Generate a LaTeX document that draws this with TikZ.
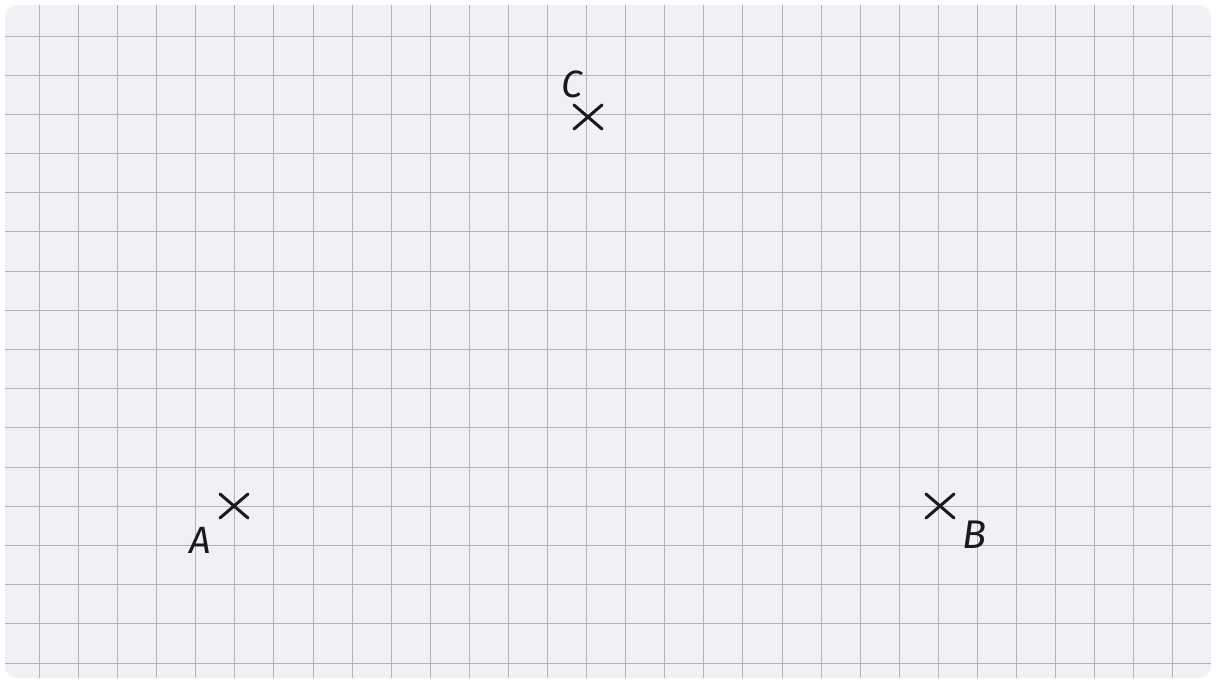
\documentclass[tikz,border=0pt]{standalone}
\usepackage{fontspec}
\setmainfont{Fira Sans}
\usetikzlibrary{shapes.misc}
\definecolor{paper}{HTML}{F1F0F5}
\definecolor{gridc}{HTML}{B3B2B9}
\definecolor{ink}{HTML}{1A1A1C}
\tikzset{
  gridline/.style={gridc, line width=1.2pt},
  pointmark/.style={cross out, draw=ink, line width=3pt, line cap=round, minimum width=25pt, minimum height=21pt, inner sep=0pt},
  pointlabel/.style={text=ink, inner sep=0pt, font=\fontsize{38}{38}\selectfont\itshape}
}
\begin{document}
\begin{tikzpicture}[x=1pt,y=-1pt]
\useasboundingbox (0,0) rectangle (1216,680);
\fill[white] (0,0) rectangle (1216,680);
\fill[paper, rounded corners=12pt] (5,5) rectangle (1211,678);
\begin{scope}
\clip[rounded corners=12pt] (5,5) rectangle (1211,678);
\foreach \k in {0,...,29} {
  \pgfmathsetmacro{\gx}{floor(39.5+39.08*\k)+0.5}
  \draw[gridline] (\gx,5) -- (\gx,678);
}
\foreach \k in {0,...,16} {
  \pgfmathsetmacro{\gy}{floor(36+39.2*\k)+0.5}
  \draw[gridline] (5,\gy) -- (1211,\gy);
}
\end{scope}
\node[pointmark] (xA) at (234,506) {};
\node[pointmark] (xC) at (588,117) {};
\node[pointmark] (xB) at (940,506) {};
\node[pointlabel] (lA) at (200,540) {A};
\node[pointlabel] (lC) at (572,84) {C};
\node[pointlabel, font=\fontsize{40}{40}\selectfont\itshape] (lB) at (975,535) {B};
\end{tikzpicture}
\end{document}
